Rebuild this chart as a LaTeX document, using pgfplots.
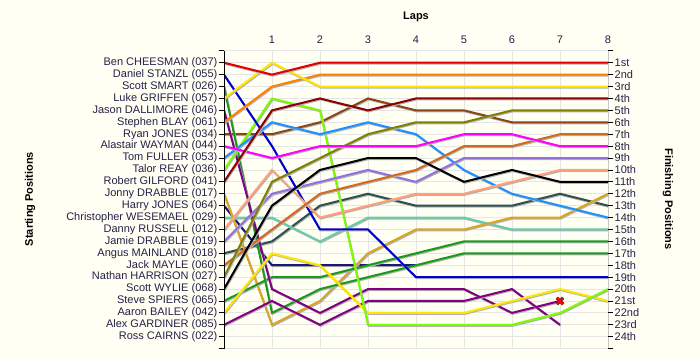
\documentclass[border=0pt]{standalone}
\usepackage{pgfplots}
\pgfplotsset{compat=1.18}
\usepackage{fontspec}
\setmainfont{Liberation Sans}
\definecolor{bgc}{HTML}{FFFFF4}
\definecolor{labc}{HTML}{262048}
\definecolor{cRed}{HTML}{E00000}
\definecolor{cOrange}{HTML}{FF8000}
\definecolor{cYellow}{HTML}{FFE600}
\definecolor{cDkRed}{HTML}{8B0000}
\definecolor{cOlive}{HTML}{808000}
\definecolor{cBrown}{HTML}{8B4513}
\definecolor{cChoc}{HTML}{D2691E}
\definecolor{cMagenta}{HTML}{FF00FF}
\definecolor{cLav}{HTML}{9370DB}
\definecolor{cSalmon}{HTML}{FFA07A}
\definecolor{cGold}{HTML}{DAA520}
\definecolor{cSlate}{HTML}{2F4F4F}
\definecolor{cLtBlue}{HTML}{1E90FF}
\definecolor{cAqua}{HTML}{66CDAA}
\definecolor{cGreen}{HTML}{1A9A1A}
\definecolor{cBlue}{HTML}{0000CD}
\definecolor{cNavy}{HTML}{191970}
\definecolor{cLime}{HTML}{7CFC00}
\definecolor{cPurple}{HTML}{800080}
\pgfplotsset{lap/.style={line width=2pt, mark=none, preaction={draw=black!30, line width=2pt, transform canvas={shift={(0.7pt,-1pt)}}}}}
\begin{document}
\begin{tikzpicture}
\fill[bgc] (0pt,0pt) rectangle (700pt,360pt);
\useasboundingbox (0pt,0pt) rectangle (700pt,360pt);
\begin{axis}[
  at={(224pt,11.4pt)}, anchor=south west, scale only axis,
  width=384pt, height=297.8pt,
  xmin=0, xmax=8, ymin=0, ymax=25, y dir=reverse,
  axis line style={draw=none},
  xtick={1,...,8}, xticklabels={1,2,3,4,5,6,7,8}, xtick style={draw=none},
  xticklabel pos=right,
  ytick={0,...,25},
  yticklabels={,{Ben CHEESMAN (037)},{Daniel STANZL (055)},{Scott SMART (026)},{Luke GRIFFEN (057)},{Jason DALLIMORE (046)},{Stephen BLAY (061)},{Ryan JONES (034)},{Alastair WAYMAN (044)},{Tom FULLER (053)},{Talor REAY (036)},{Robert GILFORD (041)},{Jonny DRABBLE (017)},{Harry JONES (064)},{Christopher WESEMAEL (029)},{Danny RUSSELL (012)},{Jamie DRABBLE (019)},{Angus MAINLAND (018)},{Jack MAYLE (060)},{Nathan HARRISON (027)},{Scott WYLIE (068)},{Steve SPIERS (065)},{Aaron BAILEY (042)},{Alex GARDINER (085)},{Ross CAIRNS (022)},},
  ytick pos=left, tick align=outside, major tick length=5pt,
  ytick style={black, line width=0.8pt},
  grid=major, major grid style={black!10, line width=0.8pt},
  ticklabel style={font=\fontsize{11}{12}\selectfont, text=labc},
  yticklabel style={inner sep=1.5pt},
  xticklabel style={inner sep=2pt},
]
\addplot[lap, cBrown] coordinates {(0,7)(1,7)(2,6)(3,4)(4,5)(5,5)(6,6)(7,6)(8,6)};
\addplot[lap, cNavy] coordinates {(0,13)(1,18)(2,18)(3,18)(4,18)};
\addplot[lap, cSlate] coordinates {(0,17)(1,16)(2,13)(3,12)(4,13)(5,13)(6,13)(7,12)(8,13)};
\addplot[lap, cAqua] coordinates {(0,14)(1,14)(2,16)(3,14)(4,14)(5,14)(6,15)(7,15)(8,15)};
\addplot[lap, cGold] coordinates {(0,12)(1,23)(2,21)(3,17)(4,15)(5,15)(6,14)(7,14)(8,12)};
\addplot[lap, cGreen] coordinates {(0,21)(1,19)(2,19)(3,18)(4,17)(5,16)(6,16)(7,16)(8,16)};
\addplot[lap, cGreen] coordinates {(0,3)(1,22)(2,20)(3,19)(4,18)(5,17)(6,17)(7,17)(8,17)};
\addplot[lap, cPurple] coordinates {(0,5)(1,20)(2,22)(3,20)(4,20)(5,20)(6,22)(7,21)};
\addplot[lap, cPurple] coordinates {(0,23)(1,21)(2,23)(3,21)(4,21)(5,21)(6,20)(7,23)};
\addplot[lap, cYellow] coordinates {(0,22)(1,17)(2,18)(3,22)(4,22)(5,22)(6,21)(7,20)(8,21)};
\addplot[lap, cLime] coordinates {(0,10)(1,4)(2,5)(3,23)(4,23)(5,23)(6,23)(7,22)(8,20)};
\addplot[lap, cBlue] coordinates {(0,2)(1,8)(2,15)(3,15)(4,19)(5,19)(6,19)(7,19)(8,19)};
\addplot[lap, cLtBlue] coordinates {(0,9)(1,6)(2,7)(3,6)(4,7)(5,10)(6,12)(7,13)(8,14)};
\addplot[lap, cSalmon] coordinates {(0,15)(1,10)(2,14)(3,13)(4,12)(5,12)(6,11)(7,10)(8,10)};
\addplot[lap, cLav] coordinates {(0,16)(1,12)(2,11)(3,10)(4,11)(5,9)(6,9)(7,9)(8,9)};
\addplot[lap, cChoc] coordinates {(0,18)(1,15)(2,12)(3,11)(4,10)(5,8)(6,8)(7,7)(8,7)};
\addplot[lap, black] coordinates {(0,20)(1,13)(2,10)(3,9)(4,9)(5,11)(6,10)(7,11)(8,11)};
\addplot[lap, cOlive] coordinates {(0,19)(1,11)(2,9)(3,7)(4,6)(5,6)(6,5)(7,5)(8,5)};
\addplot[lap, cMagenta] coordinates {(0,8)(1,9)(2,8)(3,8)(4,8)(5,7)(6,7)(7,8)(8,8)};
\addplot[lap, cDkRed] coordinates {(0,11)(1,5)(2,4)(3,5)(4,4)(5,4)(6,4)(7,4)(8,4)};
\addplot[lap, cOrange] coordinates {(0,6)(1,3)(2,2)(3,2)(4,2)(5,2)(6,2)(7,2)(8,2)};
\addplot[lap, cYellow] coordinates {(0,4)(1,1)(2,3)(3,3)(4,3)(5,3)(6,3)(7,3)(8,3)};
\addplot[lap, cRed] coordinates {(0,1)(1,2)(2,1)(3,1)(4,1)(5,1)(6,1)(7,1)(8,1)};
\addplot[only marks, mark=x, mark size=4.5pt, mark options={line width=3.4pt, draw=black!75}] coordinates {(7,21)};
\addplot[only marks, mark=x, mark size=4.5pt, mark options={line width=2pt, draw=red}] coordinates {(7,21)};
\draw[black, line width=0.8pt] (axis cs:0,0) -- (axis cs:0,25);
\end{axis}
\begin{axis}[
  at={(224pt,11.4pt)}, anchor=south west, scale only axis,
  width=384pt, height=297.8pt,
  xmin=0, xmax=8, ymin=0, ymax=25, y dir=reverse,
  axis line style={draw=none},
  xtick=\empty,
  ytick={0,...,25},
  yticklabels={,1st,2nd,3rd,4th,5th,6th,7th,8th,9th,10th,11th,12th,13th,14th,15th,16th,17th,18th,19th,20th,21st,22nd,23rd,24th,},
  ytick pos=right, yticklabel pos=right, tick align=outside, major tick length=5pt,
  ytick style={black, line width=0.8pt},
  ticklabel style={font=\fontsize{11}{12}\selectfont, text=labc},
  yticklabel style={inner sep=1.5pt},
]
\draw[black, line width=0.8pt] (axis cs:8,0) -- (axis cs:8,25);
\end{axis}
\node[font=\bfseries\fontsize{11}{12}\selectfont, text=black] at (416pt,343pt) {Laps};
\node[font=\bfseries\fontsize{11}{12}\selectfont, text=black, rotate=90] at (30pt,161pt) {Starting Positions};
\node[font=\bfseries\fontsize{11}{12}\selectfont, text=black, rotate=-90] at (668pt,161pt) {Finishing Positions};
\end{tikzpicture}
\end{document}
